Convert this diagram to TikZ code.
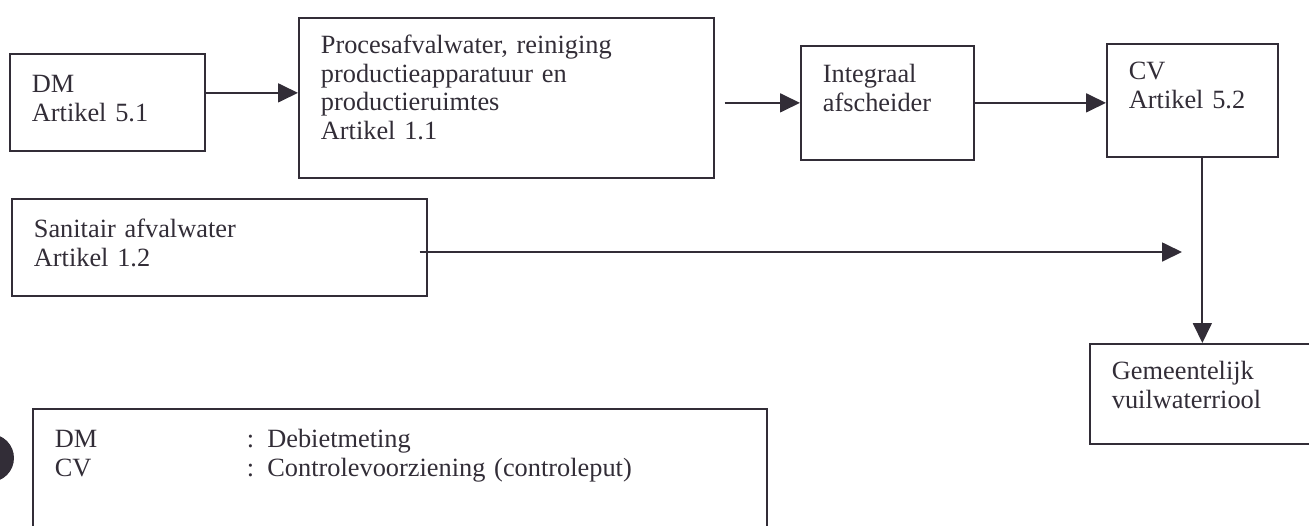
\documentclass[tikz,border=0pt]{standalone}
\usepackage{fontspec}
\setmainfont{Liberation Serif}
\usetikzlibrary{arrows.meta,calc}
\definecolor{ink}{RGB}{50,45,55}
\begin{document}
\begin{tikzpicture}[x=0.02cm,y=-0.02cm,font={\fontsize{15}{16.2}\selectfont},
  box/.style={draw=ink, text=ink, line width=1pt, anchor=north west, align=left, inner xsep=0.44cm, inner ysep=0pt},
  flow/.style={draw=ink, line width=1pt, -{Triangle[length=0.4cm,width=0.38cm]}}]
\useasboundingbox (0,0) rectangle (1309,525);
\node[box, text width=3.02cm, text height=0.78cm, text depth=1.16cm] (dm) at (9,53) {DM\\Artikel 5.1};
\node[box, text width=7.42cm, text height=0.72cm, text depth=2.48cm] (proc) at (298,17) {Procesafvalwater, reiniging\\productieapparatuur en\\productieruimtes\\Artikel 1.1};
\node[box, text width=2.58cm, text height=0.74cm, text depth=1.54cm] (sep) at (800,45) {Integraal\\afscheider};
\node[box, text width=2.54cm, text height=0.72cm, text depth=1.54cm] (cv) at (1106,43) {CV\\Artikel 5.2};
\node[box, text width=7.42cm, text height=0.78cm, text depth=1.16cm] (san) at (11,198) {Sanitair afvalwater\\Artikel 1.2};
\node[box, text width=3.94cm, text height=0.72cm, text depth=1.28cm] (riool) at (1089,343) {Gemeentelijk\\vuilwaterriool};
\node[box, text width=13.8cm, text height=0.78cm, text depth=2.26cm] (legend) at (32,408) {\makebox[3.84cm][l]{DM}: Debietmeting\\\makebox[3.84cm][l]{CV}: Controlevoorziening (controleput)};
%\node[box] (punch) at (0,458) {};
\fill[ink] (-10,458) circle[radius=0.48cm];
\coordinate (gap) at ($(proc.east |- sep.west)+(10,0)$);
\coordinate (sanend) at (1182,252);
\coordinate (drop) at ($(cv.south)+(10,0)$);
\draw[flow] (dm.base east) -- (dm.base east -| proc.west);
\draw[flow] (gap) -- (sep.west);
\draw[flow] (sep.east) -- (sep.east -| cv.west);
\draw[flow] ($(san.east |- sanend)+(-8,0)$) -- (sanend);
\draw[flow] (drop) -- (drop |- riool.north);
\end{tikzpicture}
\end{document}
